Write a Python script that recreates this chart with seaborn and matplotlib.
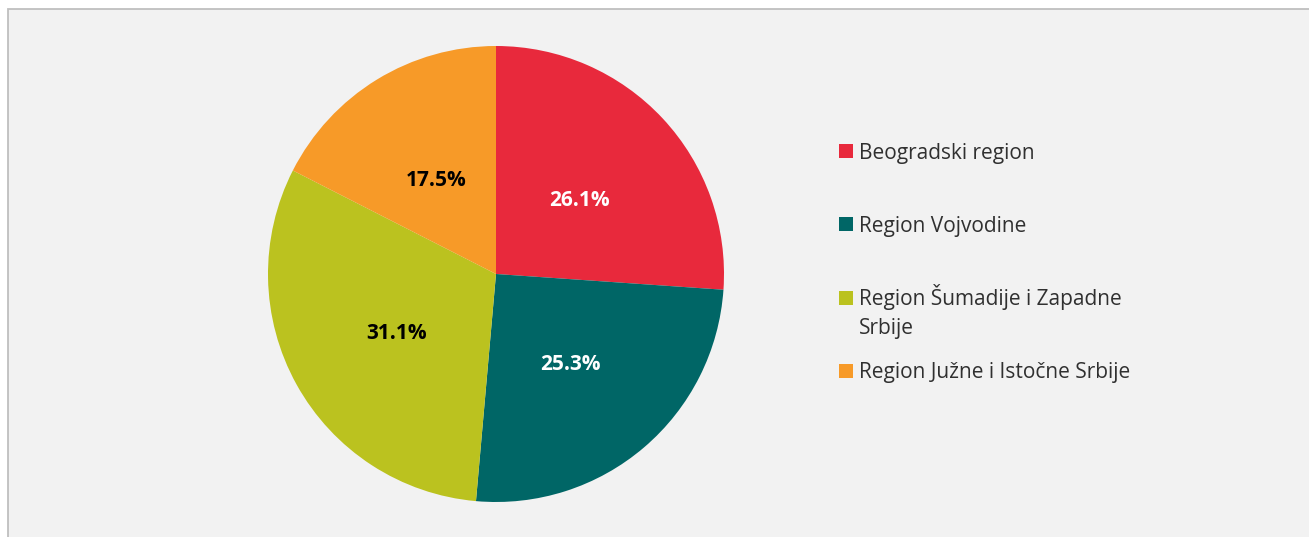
import matplotlib.pyplot as plt
import matplotlib.patches as mpatches
import seaborn as sns

# data
regions = ["Beogradski region", "Region Vojvodine",
           "Region Šumadije i Zapadne\nSrbije", "Region Južne i Istočne Srbije"]
shares = [26.1, 25.3, 31.1, 17.5]
colors = ["#E8293C", "#006666", "#BBC21F", "#F79A28"]
label_colors = ["white", "white", "black", "black"]

sns.set_style("white")
plt.rcParams["font.family"] = ["Open Sans", "DejaVu Sans"]

W, H = 1309, 537
fig = plt.figure(figsize=(W / 100, H / 100), dpi=100)
fig.patch.set_facecolor("white")

# gray panel with border (cut off at right and bottom)
fig.add_artist(mpatches.Rectangle((7.5 / W, -0.1), 1.1, 1.1 - 8.5 / H,
                                  transform=fig.transFigure, facecolor="#f2f2f2",
                                  edgecolor="#bfbfbf", linewidth=1.3, zorder=0))

# pie axes: centre (496, 274) px, radius 228 px
cx, cy, r = 496, 274, 228
ax = fig.add_axes([(cx - r) / W, (H - cy - r) / H, 2 * r / W, 2 * r / H])
ax.set_facecolor("none")
wedges, texts, autotexts = ax.pie(
    shares, colors=colors, startangle=90, counterclock=False,
    autopct="%.1f%%", pctdistance=0.5,
    wedgeprops=dict(linewidth=0),
    textprops=dict(fontsize=15, fontweight="bold"))
for t, c in zip(autotexts, label_colors):
    t.set_color(c)
    x, y = t.get_position()
    t.set_position((x, y - 4 / r))
ax.set_xlim(-1, 1)
ax.set_ylim(-1, 1)
ax.set_aspect("equal")
ax.axis("off")

# legend, fixed slots like the original
slot0, step, line_h = 151, 73.3, 29
for i, (lab, col) in enumerate(zip(regions, colors)):
    yc = slot0 + i * step
    fig.add_artist(mpatches.Rectangle((839 / W, (H - yc - 7) / H), 14 / W, 14 / H,
                                      transform=fig.transFigure, facecolor=col,
                                      edgecolor="none"))
    for j, line in enumerate(lab.split("\n")):
        fig.text(859 / W, (H - yc - 7.5 - j * line_h) / H, line, fontsize=15,
                 color="#303030", ha="left", va="baseline")

fig.savefig("out.png", dpi=100)
